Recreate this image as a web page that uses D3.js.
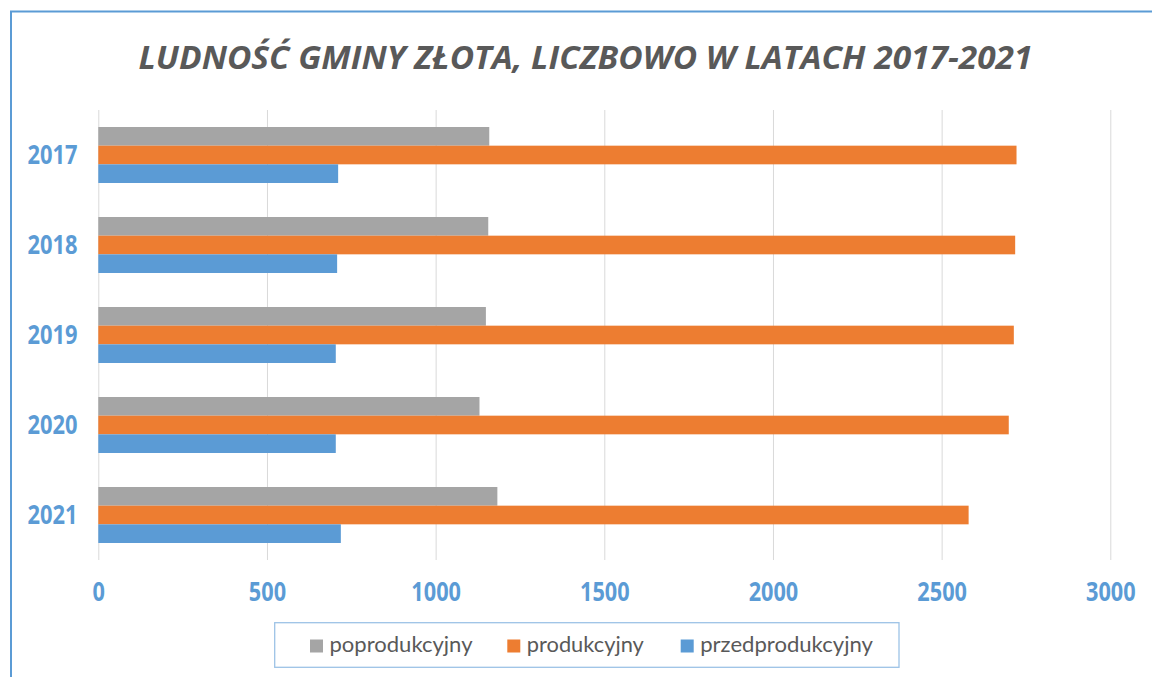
<!DOCTYPE html>
<html>
<head>
<meta charset="utf-8">
<script src="https://cdn.jsdelivr.net/npm/d3@7"></script>
<style>
    body { margin: 0; background: #ffffff; }
    svg { display: block; }
</style>
</head>
<body>
<div id="chart"></div>
<script>
// values
const years = ["2017", "2018", "2019", "2020", "2021"];
const poprodukcyjny = [1159, 1156, 1149, 1130, 1183];
const produkcyjny = [2722, 2718, 2714, 2699, 2580];
const przedprodukcyjny = [711, 708, 704, 704, 719];
const seriesNames = ["poprodukcyjny", "produkcyjny", "przedprodukcyjny"];
const seriesColors = ["#a5a5a5", "#ed7d31", "#5b9bd5"];
const xTicks = [0, 500, 1000, 1500, 2000, 2500, 3000];
const title = "LUDNOŚĆ GMINY ZŁOTA, LICZBOWO W LATACH 2017-2021";

const width = 1152, height = 677;
const plot = { left: 98.3, right: 1110.3, top: 110, bottom: 560 };

let svg = d3.select("#chart")
    .append("svg")
    .attr("width", width)
    .attr("height", height);

svg.append("rect")
    .attr("width", width)
    .attr("height", height)
    .attr("fill", "#ffffff");

// chart border, runs off the right and bottom edges
svg.append("rect")
    .attr("x", 11)
    .attr("y", 11.5)
    .attr("width", 1300)
    .attr("height", 800)
    .attr("fill", "none")
    .attr("stroke", "#5b9bd5")
    .attr("stroke-width", 2);

svg.append("text")
    .attr("x", 585.5)
    .attr("y", 68.5)
    .attr("text-anchor", "middle")
    .attr("textLength", 894)
    .attr("lengthAdjust", "spacingAndGlyphs")
    .style("font-family", "'Open Sans', sans-serif")
    .style("font-weight", "bold")
    .style("font-style", "italic")
    .style("font-size", "32px")
    .style("fill", "#595959")
    .text(title);

let x = d3.scaleLinear()
    .domain([0, 3000])
    .range([plot.left, plot.right]);

let y = d3.scaleBand()
    .domain(years)
    .range([plot.top, plot.bottom])
    .paddingInner(0.378)
    .paddingOuter(0.189);

let ySub = d3.scaleBand()
    .domain(seriesNames)
    .range([0, y.bandwidth()]);

// gridlines
svg.append("g")
    .attr("transform", `translate(0, ${plot.bottom})`)
    .call(d3.axisBottom(x)
        .tickValues(xTicks)
        .tickSize(-(plot.bottom - plot.top))
        .tickFormat(""))
    .call(g => g.select(".domain").remove())
    .call(g => g.selectAll("line").attr("stroke", "#d9d9d9"));

let rows = years.map((year, i) => ({
    year: year,
    values: [poprodukcyjny[i], produkcyjny[i], przedprodukcyjny[i]]
}));

let group = svg.selectAll("g.year")
    .data(rows)
    .enter()
    .append("g")
    .attr("class", "year")
    .attr("transform", d => `translate(0, ${y(d.year)})`);

group.selectAll("rect")
    .data(d => d.values.map((v, j) => ({ name: seriesNames[j], value: v, color: seriesColors[j] })))
    .enter()
    .append("rect")
    .attr("x", x(0))
    .attr("y", d => ySub(d.name))
    .attr("width", d => x(d.value) - x(0))
    .attr("height", ySub.bandwidth())
    .attr("fill", d => d.color);

// x tick labels
svg.append("g")
    .attr("transform", `translate(0, ${plot.bottom})`)
    .call(d3.axisBottom(x).tickValues(xTicks).tickSize(0).tickFormat(d3.format("d")))
    .call(g => g.select(".domain").remove())
    .call(g => g.selectAll("text")
        .attr("y", 40.5)
        .attr("dy", 0)
        .attr("textLength", d => String(d).length * 12.4)
        .attr("lengthAdjust", "spacingAndGlyphs")
        .style("font-family", "'Open Sans', sans-serif")
        .style("font-weight", "bold")
        .style("font-size", "26px")
        .style("fill", "#5b9bd5"));

// year labels
svg.append("g")
    .attr("transform", `translate(${plot.left}, 0)`)
    .call(d3.axisLeft(y).tickSize(0).tickPadding(20.8))
    .call(g => g.select(".domain").remove())
    .call(g => g.selectAll("text")
        .attr("dy", "0.36em")
        .attr("textLength", 50)
        .attr("lengthAdjust", "spacingAndGlyphs")
        .style("font-family", "'Open Sans', sans-serif")
        .style("font-weight", "bold")
        .style("font-size", "26px")
        .style("fill", "#5b9bd5"));

// legend
svg.append("rect")
    .attr("x", 274.7)
    .attr("y", 622.7)
    .attr("width", 624.3)
    .attr("height", 44.6)
    .attr("fill", "#ffffff")
    .attr("stroke", "#9dc3e6")
    .attr("stroke-width", 1.3);

const legendX = [310, 507.3, 680.7];
const legendTextWidth = [143, 117, 172.7];

let legend = svg.selectAll("g.legend")
    .data(seriesNames)
    .enter()
    .append("g")
    .attr("class", "legend")
    .attr("transform", (d, i) => `translate(${legendX[i]}, 0)`);

legend.append("rect")
    .attr("y", 639.5)
    .attr("width", 13)
    .attr("height", 13)
    .attr("fill", (d, i) => seriesColors[i]);

legend.append("text")
    .attr("x", 19.5)
    .attr("y", 651.7)
    .attr("textLength", (d, i) => legendTextWidth[i])
    .attr("lengthAdjust", "spacingAndGlyphs")
    .style("font-family", "Lato, sans-serif")
    .style("font-size", "21.5px")
    .style("fill", "#595959")
    .text(d => d);
</script>
</body>
</html>
